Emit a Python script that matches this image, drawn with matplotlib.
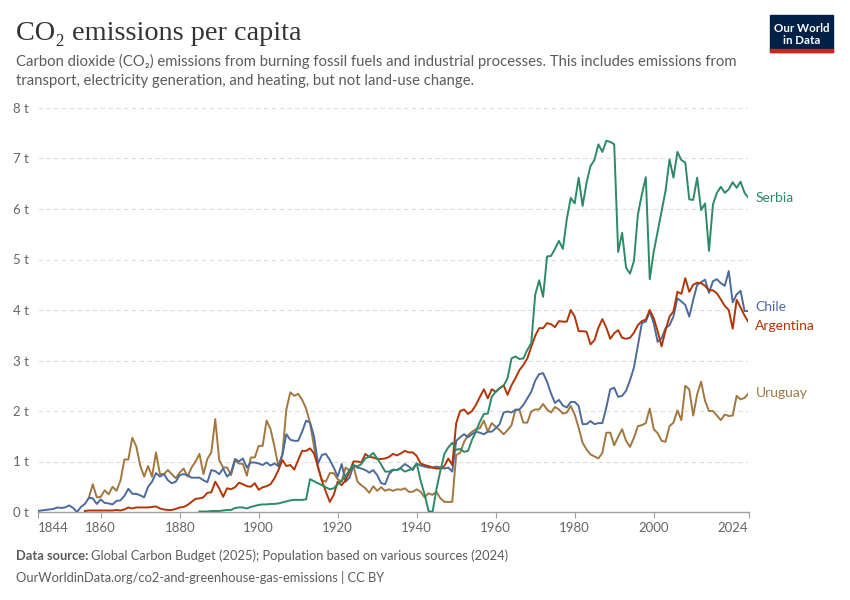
import matplotlib
matplotlib.use("Agg")
import matplotlib.pyplot as plt
from matplotlib.patches import Rectangle
import numpy as np

# CO2 per capita (tonnes)
chile_years = list(range(1844, 2025))
chile = [
    0.02, 0.03, 0.04, 0.05, 0.06, 0.09,
    0.08, 0.09, 0.13, 0.08, 0.00, 0.10, 0.16, 0.28, 0.27, 0.16,
    0.25, 0.18, 0.17, 0.15, 0.22, 0.23, 0.32, 0.46, 0.36, 0.36,
    0.33, 0.29, 0.50, 0.60, 0.77, 0.70, 0.75, 0.63, 0.57, 0.60,
    0.73, 0.75, 0.73, 0.68, 0.68, 0.68, 0.63, 0.59, 0.83, 0.81,
    0.75, 0.86, 0.70, 0.78, 1.05, 1.00, 1.06, 0.88, 0.98, 0.98,
    0.96, 0.93, 0.98, 0.92, 0.96, 0.91, 1.13, 1.54, 1.43, 1.41,
    1.41, 1.59, 1.81, 1.77, 1.50, 0.96, 1.13, 1.15, 1.03, 0.88,
    0.70, 0.95, 0.60, 0.68, 0.92, 0.88, 0.86, 0.83, 0.78, 0.83,
    0.73, 0.57, 0.55, 0.75, 0.83, 0.83, 0.88, 0.95, 0.90, 0.83,
    0.96, 0.92, 0.90, 0.88, 0.88, 0.90, 0.88, 0.86, 0.88, 0.80,
    1.41, 1.48, 1.54, 1.48, 1.54, 1.59, 1.57, 1.54, 1.59, 1.59,
    1.66, 1.74, 1.97, 1.99, 1.97, 2.02, 2.03, 2.12, 2.25, 2.38,
    2.60, 2.73, 2.75, 2.58, 2.35, 2.16, 2.22, 2.11, 2.07, 2.18,
    2.18, 2.10, 1.74, 1.74, 1.80, 1.74, 1.76, 1.76, 2.07, 2.43,
    2.46, 2.28, 2.30, 2.40, 2.61, 2.86, 3.30, 3.74, 3.77, 3.97,
    3.74, 3.37, 3.44, 3.64, 3.70, 3.87, 4.23, 4.17, 4.10, 3.87,
    4.20, 4.50, 4.55, 4.60, 4.34, 4.57, 4.61, 4.53, 4.48, 4.77,
    4.15, 4.31, 4.38, 3.98, 3.98,
]

argentina_years = list(range(1856, 2025))
argentina = [
    0.02, 0.03, 0.03, 0.03,
    0.03, 0.03, 0.03, 0.03, 0.04, 0.03, 0.05, 0.09, 0.07, 0.09,
    0.09, 0.09, 0.09, 0.10, 0.11, 0.07, 0.05, 0.04, 0.04, 0.06,
    0.09, 0.10, 0.14, 0.20, 0.26, 0.27, 0.29, 0.38, 0.39, 0.60,
    0.47, 0.30, 0.47, 0.45, 0.49, 0.58, 0.55, 0.51, 0.50, 0.57,
    0.44, 0.49, 0.51, 0.55, 0.67, 0.83, 1.03, 0.91, 0.93, 0.84,
    1.03, 1.21, 1.21, 1.26, 1.16, 0.90, 0.62, 0.40, 0.20, 0.34,
    0.60, 0.53, 0.63, 0.80, 1.00, 1.00, 0.98, 1.15, 1.09, 1.08,
    1.05, 1.05, 1.06, 1.09, 1.15, 1.12, 1.16, 1.21, 1.18, 1.18,
    1.11, 0.96, 0.93, 0.91, 0.88, 0.86, 0.86, 0.91, 1.06, 0.93,
    1.76, 2.00, 2.03, 1.94, 2.00, 2.12, 2.28, 2.43, 2.25, 2.43,
    2.38, 2.45, 2.51, 2.32, 2.51, 2.65, 2.81, 2.91, 3.04, 3.27,
    3.49, 3.64, 3.64, 3.74, 3.72, 3.66, 3.78, 3.77, 3.77, 4.00,
    3.87, 3.58, 3.58, 3.57, 3.32, 3.40, 3.65, 3.82, 3.65, 3.43,
    3.54, 3.60, 3.45, 3.43, 3.45, 3.55, 3.70, 3.78, 3.81, 4.00,
    3.84, 3.58, 3.28, 3.60, 3.87, 3.97, 4.36, 4.32, 4.63, 4.36,
    4.50, 4.54, 4.53, 4.48, 4.39, 4.39, 4.33, 4.21, 4.08, 4.00,
    3.63, 4.20, 4.05, 3.89, 3.76,
]

uruguay_years = list(range(1857, 2025))
uruguay = [
    0.28, 0.55, 0.29,
    0.30, 0.43, 0.35, 0.50, 0.42, 0.62, 1.04, 1.04, 1.47, 1.30,
    0.92, 0.70, 0.91, 0.70, 1.18, 0.75, 0.75, 0.83, 0.75, 0.67,
    0.78, 0.86, 0.70, 0.88, 1.00, 1.15, 0.75, 1.05, 1.18, 1.84,
    1.03, 0.88, 0.88, 0.73, 1.02, 0.96, 0.95, 0.72, 1.08, 1.08,
    1.31, 1.31, 1.81, 1.64, 1.29, 0.90, 1.15, 2.03, 2.37, 2.30,
    2.34, 2.22, 2.05, 1.76, 1.30, 0.88, 0.63, 0.60, 0.77, 0.77,
    0.65, 0.60, 0.88, 0.82, 0.91, 0.60, 0.53, 0.47, 0.38, 0.51,
    0.42, 0.49, 0.42, 0.45, 0.42, 0.45, 0.44, 0.47, 0.40, 0.40,
    0.45, 0.40, 0.29, 0.37, 0.34, 0.40, 0.27, 0.20, 0.20, 0.20,
    1.13, 1.17, 1.39, 1.52, 1.59, 1.64, 1.66, 1.81, 1.59, 1.76,
    1.69, 1.62, 1.54, 1.62, 1.72, 2.03, 2.02, 1.77, 1.77, 1.99,
    2.03, 2.03, 2.14, 2.03, 1.97, 2.08, 2.03, 1.95, 1.97, 2.10,
    1.93, 1.67, 1.37, 1.24, 1.14, 1.10, 1.06, 1.17, 1.57, 1.57,
    1.32, 1.49, 1.64, 1.41, 1.29, 1.47, 1.70, 1.72, 1.76, 2.05,
    1.64, 1.56, 1.41, 1.39, 1.70, 1.77, 2.01, 1.82, 2.50, 2.43,
    1.91, 2.33, 2.58, 2.20, 2.00, 2.00, 1.91, 1.82, 1.93, 1.90,
    1.91, 2.30, 2.23, 2.26, 2.35,
]

# Serbia has no values for 1914-1917
serbia_years = list(range(1885, 1914)) + list(range(1918, 2025))
serbia = [
    0.01, 0.01, 0.01, 0.02, 0.02,
    0.02, 0.03, 0.04, 0.04, 0.08, 0.09, 0.09, 0.07, 0.10, 0.12,
    0.14, 0.15, 0.15, 0.16, 0.16, 0.17, 0.19, 0.21, 0.23, 0.24,
    0.24, 0.24, 0.25, 0.65,
    0.45, 0.47,
    0.55, 0.62, 0.72, 0.83, 0.93, 0.90, 0.95, 1.06, 1.10, 1.17,
    1.06, 0.94, 0.80, 0.80, 0.84, 0.83, 0.86, 0.80, 0.83, 0.86,
    0.96, 0.62, 0.35, 0.02, 0.00, 0.45, 0.82, 1.15, 1.28, 1.37,
    1.23, 1.25, 1.19, 1.21, 1.43, 1.59, 1.79, 1.94, 1.95, 2.28,
    2.38, 2.45, 2.50, 2.65, 3.04, 3.08, 3.03, 3.04, 3.21, 3.34,
    4.30, 4.59, 4.26, 5.06, 5.07, 5.21, 5.37, 5.21, 5.80, 6.22,
    6.11, 6.62, 6.06, 6.52, 6.85, 6.97, 7.28, 7.13, 7.35, 7.33,
    7.28, 5.15, 5.53, 4.84, 4.72, 4.97, 5.89, 6.29, 6.63, 4.61,
    5.15, 5.55, 5.95, 6.36, 6.98, 6.62, 7.13, 6.97, 6.92, 6.19,
    6.18, 6.62, 5.98, 6.11, 5.17, 6.09, 6.32, 6.44, 6.32, 6.39,
    6.53, 6.42, 6.54, 6.32, 6.22,
]

series = [
    ("Uruguay", uruguay_years, uruguay, "#a2773f"),
    ("Chile", chile_years, chile, "#4c6a9c"),
    ("Argentina", argentina_years, argentina, "#b13507"),
    ("Serbia", serbia_years, serbia, "#2c8a66"),
]

x_ticks = [1844, 1860, 1880, 1900, 1920, 1940, 1960, 1980, 2000, 2024]
y_ticks = list(range(0, 9))

sans = ["Lato", "DejaVu Sans"]
serif = ["Liberation Serif", "DejaVu Serif"]
grey = "#5b5b5b"

W, H = 850, 600
fig = plt.figure(figsize=(W / 100, H / 100), dpi=100)
ax = fig.add_axes([37.5 / W, 88 / H, 711 / W, 404 / H])

for name, yrs, vals, col in series:
    ax.plot(yrs, vals, color=col, lw=1.4, solid_joinstyle="round", zorder=3)

ax.set_xlim(1844, 2024)
ax.set_ylim(0, 8)

for s in ["top", "right", "left"]:
    ax.spines[s].set_visible(False)
ax.spines["bottom"].set_color("#a0a0a0")
ax.spines["bottom"].set_linewidth(1)

ax.set_yticks(y_ticks)
ax.set_yticklabels([f"{v} t" for v in y_ticks], fontfamily=sans, fontsize=9.5, color="#666666")
ax.tick_params(axis="y", length=0, pad=6)
ax.grid(axis="y", color="#dcdcdc", linestyle=(0, (4, 3)), linewidth=0.8)
ax.set_axisbelow(True)

ax.set_xticks(x_ticks)
ax.set_xticklabels([str(t) for t in x_ticks], fontfamily=sans, fontsize=9.5, color="#666666")
ax.tick_params(axis="x", length=4, color="#a0a0a0", pad=3)
labels = ax.get_xticklabels()
labels[0].set_horizontalalignment("left")
labels[-1].set_horizontalalignment("right")

# end-of-line labels, spread apart where they would collide
ends = sorted([(vals[-1], name, col) for name, yrs, vals, col in series])
placed = []
for v, name, col in ends:
    y = v
    if placed and y - placed[-1] < 0.36:
        mid = (y + placed[-1]) / 2
        placed[-1] = mid - 0.18
        y = mid + 0.18
    placed.append(y)
for (v, name, col), y in zip(ends, placed):
    ax.annotate(name, xy=(2024, y), xytext=(5, 0), textcoords="offset points",
                va="center", ha="left", fontfamily=sans, fontsize=10, color=col,
                annotation_clip=False)

# header
fig.text(16 / W, 1 - 40 / H, "CO₂ emissions per capita", fontfamily=serif,
         fontsize=20.3, color="#333333", va="baseline")
fig.text(16 / W, 1 - 66 / H,
         "Carbon dioxide (CO₂) emissions from burning fossil fuels and industrial processes. This includes emissions from",
         fontfamily=sans, fontsize=10.75, color=grey, va="baseline")
fig.text(16 / W, 1 - 85 / H,
         "transport, electricity generation, and heating, but not land-use change.",
         fontfamily=sans, fontsize=10.75, color=grey, va="baseline")

# logo
fig.patches.append(Rectangle((770 / W, 1 - 52 / H), 63 / W, 37 / H,
                             transform=fig.transFigure, color="#002147", zorder=1))
fig.patches.append(Rectangle((770 / W, 1 - 52 / H), 63 / W, 3 / H,
                             transform=fig.transFigure, color="#ce261e", zorder=2))
fig.text(801.5 / W, 1 - 28 / H, "Our World", fontfamily=sans, fontsize=8.3,
         fontweight="bold", color="white", ha="center", va="center")
fig.text(801.5 / W, 1 - 41 / H, "in Data", fontfamily=sans, fontsize=8.3,
         fontweight="bold", color="white", ha="center", va="center")

# footer
t = fig.text(16 / W, 1 - 560 / H, "Data source:", fontfamily=sans, fontsize=9.3,
             fontweight="bold", color=grey, va="baseline")
fig.canvas.draw()
bb = t.get_window_extent()
fig.text(bb.x1 / W + 3 / W, 1 - 560 / H,
         "Global Carbon Budget (2025); Population based on various sources (2024)",
         fontfamily=sans, fontsize=9.3, color=grey, va="baseline")
fig.text(16 / W, 1 - 582 / H,
         "OurWorldinData.org/co2-and-greenhouse-gas-emissions | CC BY",
         fontfamily=sans, fontsize=9.3, color=grey, va="baseline")

fig.savefig("out.png", dpi=100, facecolor="white")
